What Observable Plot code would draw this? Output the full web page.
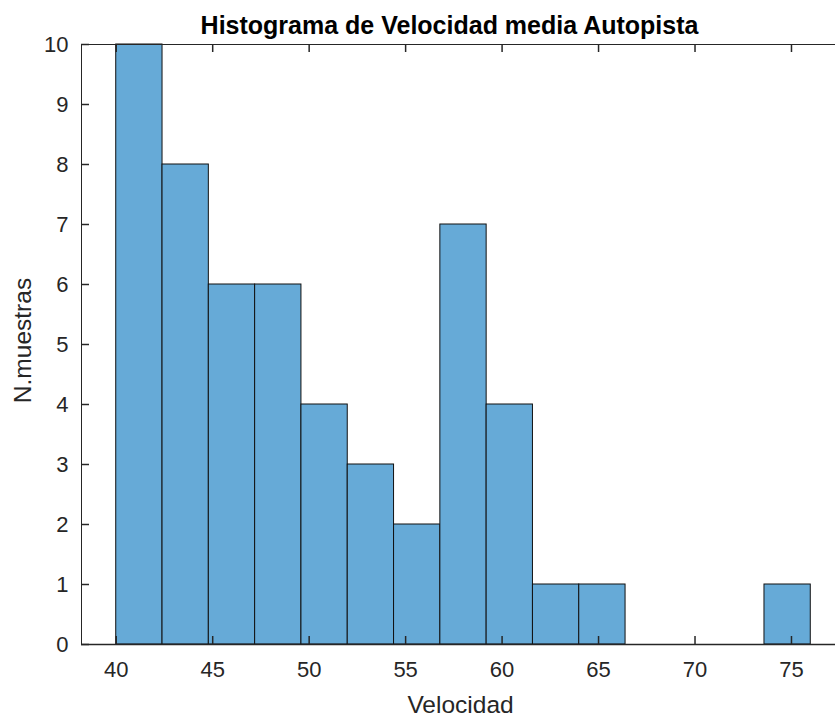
<!DOCTYPE html>
<html>
<head>
<meta charset="utf-8">
<script src="https://cdn.jsdelivr.net/npm/d3@7"></script>
<script src="https://cdn.jsdelivr.net/npm/@observablehq/plot@0.6"></script>
<style>
  html, body { margin: 0; padding: 0; background: #fff; overflow: hidden; }
  #chart svg { display: block; max-width: none !important; }
</style>
</head>
<body>
<div id="chart"></div>
<script>
// Histogram bins of mean motorway speed
const binEdges = [40, 42.4, 44.8, 47.2, 49.6, 52, 54.4, 56.8, 59.2, 61.6, 64, 66.4, 68.8, 71.2, 73.6, 76];
const counts = [10, 8, 6, 6, 4, 3, 2, 7, 4, 1, 1, 0, 0, 0, 1];
const xTicks = [40, 45, 50, 55, 60, 65, 70, 75];
const yTicks = [0, 1, 2, 3, 4, 5, 6, 7, 8, 9, 10];
const titleText = "Histograma de Velocidad media Autopista";
const xLabel = "Velocidad";
const yLabel = "N.muestras";

const bins = counts.map((c, i) => ({x1: binEdges[i], x2: binEdges[i + 1], n: c}));

const W = 846, H = 715;
const mL = 81, mR = 1, mT = 44, mB = 71;
const plotW = W - mL - mR, plotH = H - mT - mB;
const axisColor = "#262626";
const font = "'Liberation Sans', Arial, Helvetica, sans-serif";

const chart = Plot.plot({
  width: W,
  height: H,
  marginLeft: mL,
  marginRight: mR,
  marginTop: mT,
  marginBottom: mB,
  style: {fontFamily: font, color: axisColor, background: "#fff", maxWidth: "none"},
  x: {domain: [38.2, 77.8]},
  y: {domain: [0, 10]},
  marks: [
    Plot.rectY(bins, {x1: "x1", x2: "x2", y: "n", fill: "#66aad7", stroke: "#111", strokeWidth: 1}),
    Plot.frame({stroke: axisColor, strokeWidth: 1}),
    Plot.ruleY([0], {stroke: axisColor, strokeWidth: 1.5}),
    // inward tick marks (bottom, top, left)
    Plot.tickX(xTicks, {x: d => d, stroke: axisColor, strokeWidth: 1.5, insetTop: plotH - 8}),
    Plot.tickX(xTicks, {x: d => d, stroke: axisColor, strokeWidth: 1.5, insetBottom: plotH - 8}),
    Plot.tickY(yTicks, {y: d => d, stroke: axisColor, strokeWidth: 1.5, insetRight: plotW - 8}),
    Plot.axisX(xTicks, {tickSize: 0, tickPadding: 17, fontSize: 22, label: null, fill: axisColor, tickFormat: d3.format("d")}),
    Plot.axisY(yTicks, {tickSize: 0, tickPadding: 13, fontSize: 22, label: null, fill: axisColor, tickFormat: d3.format("d")}),
    Plot.text([xLabel], {frameAnchor: "bottom", dx: -3, dy: 68, lineAnchor: "bottom", fontSize: 24.5, fill: axisColor}),
    Plot.text([yLabel], {frameAnchor: "left", textAnchor: "middle", dx: -58, dy: -4, rotate: -90, fontSize: 24.5, fill: axisColor}),
    Plot.text([titleText], {frameAnchor: "top", dx: -14, dy: -11, lineAnchor: "bottom", fontSize: 25, fontWeight: "bold", fill: "#000"})
  ]
});

document.getElementById("chart").append(chart);
</script>
</body>
</html>
